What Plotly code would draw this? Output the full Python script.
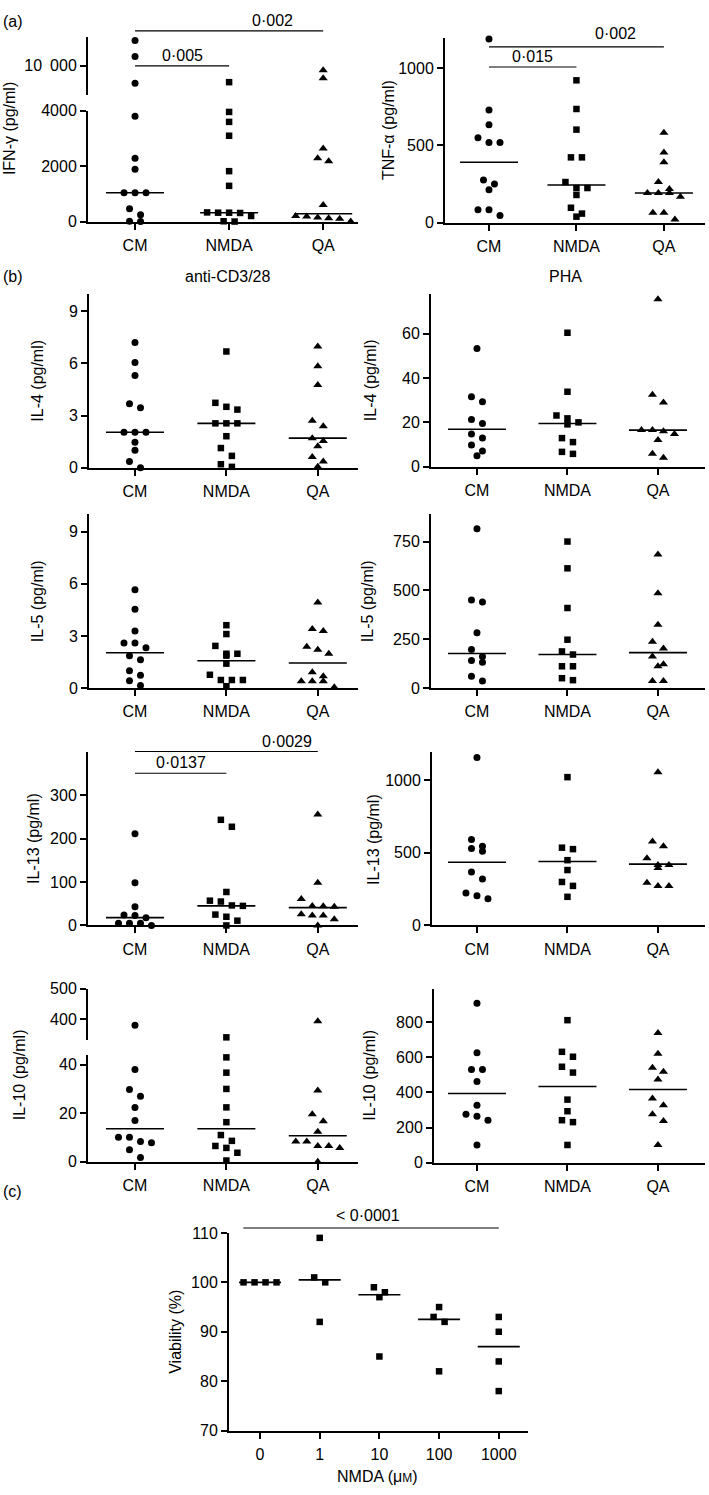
import plotly.graph_objects as go

W, H = 709, 1495
FONT = "Liberation Sans, Arial, Helvetica, sans-serif"
FS = 16

groups = ["CM", "NMDA", "QA"]
doses = ["0", "1", "10", "100", "1000"]

# ---- (a) IFN-gamma / TNF-alpha (pg/ml)
ifng_cm = [11730, 10640, 8810, 3800, 2290, 1890, 1040, 1040, 1040, 460, 250, 10, 0]
ifng_nmda = [8880, 3960, 3600, 3100, 1820, 1290, 330, 320, 320, 310, 200, 10, 0]
ifng_qa = [9700, 9150, 2640, 2290, 2180, 600, 200, 180, 150, 120, 100, 0]
ifng_med = [1040, 320, 280]

tnf_cm = [1192, 731, 635, 551, 519, 519, 276, 250, 212, 83, 83, 45]
tnf_nmda = [923, 737, 603, 423, 423, 263, 224, 224, 179, 96, 58, 38]
tnf_qa = [583, 455, 391, 263, 218, 192, 192, 192, 167, 64, 64, 19]
tnf_med = [391, 244, 192]

# ---- (b) anti-CD3/28 and PHA
il4_cd3_cm = [7.19, 6.05, 5.3, 3.68, 3.45, 2.04, 2.04, 2.04, 1.47, 1.0, 0.35, 0.0]
il4_cd3_nmda = [6.68, 3.73, 3.5, 3.34, 2.55, 2.55, 2.55, 1.81, 1.13, 0.68, 0.2, 0.05]
il4_cd3_qa = [6.96, 5.83, 4.75, 2.7, 2.38, 1.7, 1.53, 1.24, 0.62, 0.35, 0.05]
il4_cd3_med = [2.04, 2.55, 1.7]

il4_pha_cm = [53.3, 31.6, 29.3, 21.3, 19.5, 14.7, 12.9, 9.8, 7.1, 4.9]
il4_pha_nmda = [60.4, 33.8, 23.1, 21.8, 20.0, 19.1, 12.9, 11.1, 6.7, 5.8]
il4_pha_qa = [75.5, 32.4, 28.9, 16.5, 16.5, 16.0, 14.8, 12.0, 5.8, 4.0]
il4_pha_med = [16.9, 19.5, 16.5]

il5_cd3_cm = [5.66, 4.53, 3.28, 2.6, 2.6, 2.32, 1.87, 1.64, 1.0, 0.74, 0.43, 0.15]
il5_cd3_nmda = [3.62, 3.11, 2.43, 1.98, 1.98, 1.87, 1.41, 0.77, 0.47, 0.47, 0.47, 0.11]
il5_cd3_qa = [4.92, 3.4, 3.28, 2.38, 2.21, 1.98, 0.91, 0.68, 0.4, 0.4, 0.4, 0.05]
il5_cd3_med = [2.04, 1.58, 1.45]

il5_pha_cm = [816, 451, 441, 284, 198, 162, 142, 132, 61, 37]
il5_pha_nmda = [750, 613, 410, 248, 188, 172, 112, 112, 51, 41]
il5_pha_qa = [684, 486, 324, 238, 203, 162, 122, 112, 37, 37]
il5_pha_med = [177, 172, 182]

il13_cd3_cm = [211, 98, 43, 24, 23, 18, 5, 5, 5, 0]
il13_cd3_nmda = [243, 227, 77, 57, 55, 46, 45, 25, 20, 11, 0]
il13_cd3_qa = [255, 98, 61, 45, 44, 43, 26, 23, 23, 14, 0]
il13_cd3_med = [18, 45, 41]

il13_pha_cm = [1156, 592, 544, 530, 510, 367, 320, 224, 204, 184]
il13_pha_nmda = [1020, 535, 525, 449, 381, 299, 272, 197]
il13_pha_qa = [1054, 578, 544, 463, 415, 415, 395, 293, 272, 272]
il13_pha_med = [435, 440, 422]

il10_cd3_cm = [381, 38, 29.8, 27, 22.4, 17, 10.1, 10.1, 8.3, 7.8, 4.9, 1.7]
il10_cd3_nmda = [342, 43, 36.7, 30, 22.4, 16.3, 11, 8.6, 6.5, 5.7, 3.7, 0.5]
il10_cd3_qa = [394, 29.4, 19.6, 16.7, 12.4, 8.3, 8.3, 6.5, 6.5, 5.7, 0]
il10_cd3_med = [13.6, 13.6, 10.7]

il10_pha_cm = [907, 625, 530, 530, 462, 327, 276, 265, 242, 101]
il10_pha_nmda = [811, 631, 603, 546, 513, 359, 293, 242, 231, 101]
il10_pha_qa = [738, 620, 541, 518, 473, 366, 327, 276, 237, 101]
il10_pha_med = [394, 434, 417]

# ---- (c) viability (%) vs NMDA dose
via_0 = [100, 100, 100, 100]
via_1 = [109, 101, 100, 92]
via_10 = [99, 98, 97, 85]
via_100 = [95, 93, 92, 82]
via_1000 = [93, 90, 84, 78]
via_med = [100, 100.5, 97.5, 92.5, 87]

SYM3 = ["circle", "square", "triangle-up"]
MSIZE = {"circle": 7, "square": 6.5, "triangle-up": 8}

# ---------------------------------------------------------------- layout config
panels = [
    dict(xi=1, yi=1, xdom=(88, 358), xr=(-0.5, 2.37), ydom=(104, 216), yr=(0, 4000), yt=[0, 2000, 4000],
         hi=dict(yi=2, ydom=(29, 88), yr=(8000, 12000), yt=[10000], ytt=["10\u2002000"]),
         series=[ifng_cm, ifng_nmda, ifng_qa], med=ifng_med, cats=groups, sym=SYM3,
         title="IFN-\u03b3 (pg/ml)", tx=9,
         brackets=[(0, 1, 10000, "hi", "0\u00b7005", 0.5, 0), (0, 2, 12400, "hi", "0\u00b7002", 1.46, 0)]),
    dict(xi=3, yi=3, xdom=(445, 705), xr=(-0.503, 2.47), ydom=(30, 217), yr=(0, 1200), yt=[0, 500, 1000],
         series=[tnf_cm, tnf_nmda, tnf_qa], med=tnf_med, cats=groups, sym=SYM3,
         title="TNF-\u03b1 (pg/ml)", tx=388,
         brackets=[(0, 1, 1010, "lo", "0\u00b7015", 0.5, 0), (0, 2, 1140, "lo", "0\u00b7002", 1.45, 3)]),
    dict(xi=4, yi=4, xdom=(89, 358), xr=(-0.503, 2.44), ydom=(289, 465), yr=(0, 10), yt=[0, 3, 6, 9],
         series=[il4_cd3_cm, il4_cd3_nmda, il4_cd3_qa], med=il4_cd3_med, cats=groups, sym=SYM3,
         title="IL-4 (pg/ml)", tx=38),
    dict(xi=5, yi=5, xdom=(431, 705), xr=(-0.508, 2.52), ydom=(289, 464), yr=(0, 78), yt=[0, 20, 40, 60],
         series=[il4_pha_cm, il4_pha_nmda, il4_pha_qa], med=il4_pha_med, cats=groups, sym=SYM3,
         title="IL-4 (pg/ml)", tx=370),
    dict(xi=6, yi=6, xdom=(89, 358), xr=(-0.503, 2.44), ydom=(512, 688), yr=(0, 10), yt=[0, 3, 6, 9],
         series=[il5_cd3_cm, il5_cd3_nmda, il5_cd3_qa], med=il5_cd3_med, cats=groups, sym=SYM3,
         title="IL-5 (pg/ml)", tx=37),
    dict(xi=7, yi=7, xdom=(431, 705), xr=(-0.508, 2.52), ydom=(512, 688), yr=(0, 890), yt=[0, 250, 500, 750],
         series=[il5_pha_cm, il5_pha_nmda, il5_pha_qa], med=il5_pha_med, cats=groups, sym=SYM3,
         title="IL-5 (pg/ml)", tx=367),
    dict(xi=8, yi=8, xdom=(88, 358), xr=(-0.514, 2.44), ydom=(753, 928), yr=(0, 398), yt=[0, 100, 200, 300],
         series=[il13_cd3_cm, il13_cd3_nmda, il13_cd3_qa], med=il13_cd3_med, cats=groups, sym=SYM3,
         title="IL-13 (pg/ml)", tx=34,
         brackets=[(0, 1, 350, "lo", "0\u00b70137", 0.5, 0), (0, 2, 400, "lo", "0\u00b70029", 1.66, 0)]),
    dict(xi=9, yi=9, xdom=(432, 705), xr=(-0.497, 2.52), ydom=(753, 928), yr=(0, 1190), yt=[0, 500, 1000],
         series=[il13_pha_cm, il13_pha_nmda, il13_pha_qa], med=il13_pha_med, cats=groups, sym=SYM3,
         title="IL-13 (pg/ml)", tx=374),
    dict(xi=10, yi=10, xdom=(88, 358), xr=(-0.514, 2.44), ydom=(1059, 1167), yr=(0, 44), yt=[0, 20, 40],
         hi=dict(yi=11, ydom=(992, 1044), yr=(333, 500), yt=[400, 500]),
         series=[il10_cd3_cm, il10_cd3_nmda, il10_cd3_qa], med=il10_cd3_med, cats=groups, sym=SYM3,
         title="IL-10 (pg/ml)", tx=19),
    dict(xi=12, yi=12, xdom=(434, 705), xr=(-0.475, 2.52), ydom=(992, 1168), yr=(0, 990), yt=[0, 200, 400, 600, 800],
         series=[il10_pha_cm, il10_pha_nmda, il10_pha_qa], med=il10_pha_med, cats=groups, sym=SYM3,
         title="IL-10 (pg/ml)", tx=370),
    dict(xi=13, yi=13, xdom=(229, 528), xr=(-0.52, 4.49), ydom=(1239, 1439), yr=(70, 110), yt=[70, 80, 90, 100, 110],
         series=[via_0, via_1, via_10, via_100, via_1000], med=via_med, cats=doses, sym=["square"] * 5,
         title="Viability (%)", tx=176, medhalf_px=21,
         brackets=[(-0.28, 4, 111, "lo", "&lt; 0\u00b70001", 1.81, 2)]),
]


def fx(px):
    return px / W


def fy(py):
    return 1 - py / H


def aname(k, i):
    return f"{k}axis" + ("" if i == 1 else str(i))


def aref(k, i):
    return k + ("" if i == 1 else str(i))


AX = dict(showline=True, linecolor="black", linewidth=2, ticks="outside", ticklen=6, tickwidth=2,
          tickcolor="black", showgrid=False, zeroline=False, fixedrange=True,
          tickfont=dict(family=FONT, size=FS, color="black"))

layout = dict(width=W, height=H, margin=dict(l=0, r=0, t=0, b=0), paper_bgcolor="white",
              plot_bgcolor="white", showlegend=False, font=dict(family=FONT, size=FS, color="black"))
shapes, annos = [], []
fig = go.Figure()


def swarm(vals, to_px, d_units, bin_px=8.0):
    order = sorted(range(len(vals)), key=lambda k: -vals[k])
    offs = [0.0] * len(vals)
    rows = []
    for k in order:
        p = to_px(vals[k])
        if rows and p - rows[-1][0] <= bin_px:
            rows[-1][1].append(k)
        else:
            rows.append([p, [k]])
    for _, ks in rows:
        n = len(ks)
        for j, k in enumerate(ks):
            offs[k] = (j - (n - 1) / 2) * d_units
    return offs


for p in panels:
    xi, yi = p["xi"], p["yi"]
    xr, xdom = p["xr"], p["xdom"]
    ncat = len(p["cats"])
    layout[aname("x", xi)] = dict(AX, domain=[fx(xdom[0]), fx(xdom[1])], range=list(xr),
                                  anchor=aref("y", yi), tickvals=list(range(ncat)), ticktext=p["cats"],
                                  ticklabelstandoff=2)
    layout[aname("y", yi)] = dict(AX, domain=[fy(p["ydom"][1]), fy(p["ydom"][0])], range=list(p["yr"]),
                                  anchor=aref("x", xi), tickvals=p["yt"],
                                  ticktext=p.get("ytt", [str(v) for v in p["yt"]]))
    hi = p.get("hi")
    if hi:
        layout[aname("y", hi["yi"])] = dict(AX, domain=[fy(hi["ydom"][1]), fy(hi["ydom"][0])],
                                            range=list(hi["yr"]), anchor=aref("x", xi), tickvals=hi["yt"],
                                            ticktext=hi.get("ytt", [str(v) for v in hi["yt"]]))

    lo_top, lo_bot = p["ydom"]
    r0, r1 = p["yr"]

    def to_px(v, p=p, hi=hi, lo_top=lo_top, lo_bot=lo_bot, r0=r0, r1=r1):
        if hi and v > r1:
            t, b = hi["ydom"]
            a0, a1 = hi["yr"]
            return b - (v - a0) / (a1 - a0) * (b - t)
        return lo_bot - (v - r0) / (r1 - r0) * (lo_bot - lo_top)

    cat_px = (xdom[1] - xdom[0]) / (xr[1] - xr[0])
    d_units = 11.0 / cat_px
    for gi, vals in enumerate(p["series"]):
        sym = p["sym"][gi]
        offs = swarm(vals, to_px, d_units)
        seg = {"lo": ([], []), "hi": ([], [])}
        for v, o in zip(vals, offs):
            key = "hi" if (hi and v > r1) else "lo"
            seg[key][0].append(gi + o)
            seg[key][1].append(v)
        for key, (xs, ys) in seg.items():
            if not xs:
                continue
            yax = aref("y", hi["yi"] if key == "hi" else yi)
            fig.add_trace(go.Scatter(x=xs, y=ys, mode="markers", xaxis=aref("x", xi), yaxis=yax,
                                     marker=dict(symbol=sym, size=MSIZE[sym], color="black",
                                                 line=dict(width=0)),
                                     cliponaxis=False, hoverinfo="skip"))
    # median lines
    hw = p.get("medhalf_px", 29) / cat_px
    mx, my = [], []
    for gi, m in enumerate(p["med"]):
        mx += [gi - hw, gi + hw, None]
        my += [m, m, None]
    fig.add_trace(go.Scatter(x=mx, y=my, mode="lines", xaxis=aref("x", xi), yaxis=aref("y", yi),
                             line=dict(color="black", width=1.6), hoverinfo="skip", cliponaxis=False))

    # significance brackets
    for (a, b, v, sg, txt, tx, ys) in p.get("brackets", []):
        if sg == "hi":
            t, bt = hi["ydom"]
            a0, a1 = hi["yr"]
        else:
            t, bt = p["ydom"]
            a0, a1 = p["yr"]
        py = bt - (v - a0) / (a1 - a0) * (bt - t)
        yy = fy(py)
        shapes.append(dict(type="line", xref=aref("x", xi), yref="paper", x0=a, x1=b, y0=yy, y1=yy,
                           line=dict(color="black", width=1.1)))
        annos.append(dict(xref=aref("x", xi), yref="paper", x=tx, y=yy, text=txt, showarrow=False,
                          xanchor="center", yanchor="bottom", yshift=ys,
                          font=dict(family=FONT, size=FS, color="black")))

    # y-axis title
    top = hi["ydom"][0] if hi else p["ydom"][0]
    ymid = (top + p["ydom"][1]) / 2
    annos.append(dict(xref="paper", yref="paper", x=fx(p["tx"]), y=fy(ymid), text=p["title"],
                      textangle=-90, showarrow=False, xanchor="center", yanchor="middle",
                      font=dict(family=FONT, size=FS, color="black")))

# panel letters & column titles
for txt, py in [("(a)", 14), ("(b)", 272), ("(c)", 1197)]:
    annos.append(dict(xref="paper", yref="paper", x=fx(1), y=fy(py), text=txt, showarrow=False,
                      xanchor="left", yanchor="middle", font=dict(family=FONT, size=FS, color="black")))
annos.append(dict(xref="paper", yref="paper", x=fx(227), y=fy(272), text="anti-CD3/28", showarrow=False,
                  xanchor="center", yanchor="middle", font=dict(family=FONT, size=FS, color="black")))
annos.append(dict(xref="paper", yref="paper", x=fx(565), y=fy(272), text="PHA", showarrow=False,
                  xanchor="center", yanchor="middle", font=dict(family=FONT, size=FS, color="black")))
annos.append(dict(xref="paper", yref="paper", x=fx(378), y=fy(1485), text="NMDA (\u03bc<span style='font-size:12px'>M</span>)",
                  showarrow=False, xanchor="center", yanchor="middle",
                  font=dict(family=FONT, size=FS, color="black")))

layout["shapes"] = shapes
layout["annotations"] = annos
fig.update_layout(**layout)

POST = (
    "document.documentElement.style.margin='0';document.documentElement.style.padding='0';"
    "document.documentElement.style.overflow='hidden';"
    "document.body.style.margin='0';document.body.style.padding='0';document.body.style.overflow='hidden';"
    "var gd=document.getElementById('{plot_id}');"
    "gd.style.position='absolute';gd.style.left='0px';gd.style.top='0px';"
)
fig.write_html("out.html", config={"displayModeBar": False, "responsive": False}, post_script=POST)
